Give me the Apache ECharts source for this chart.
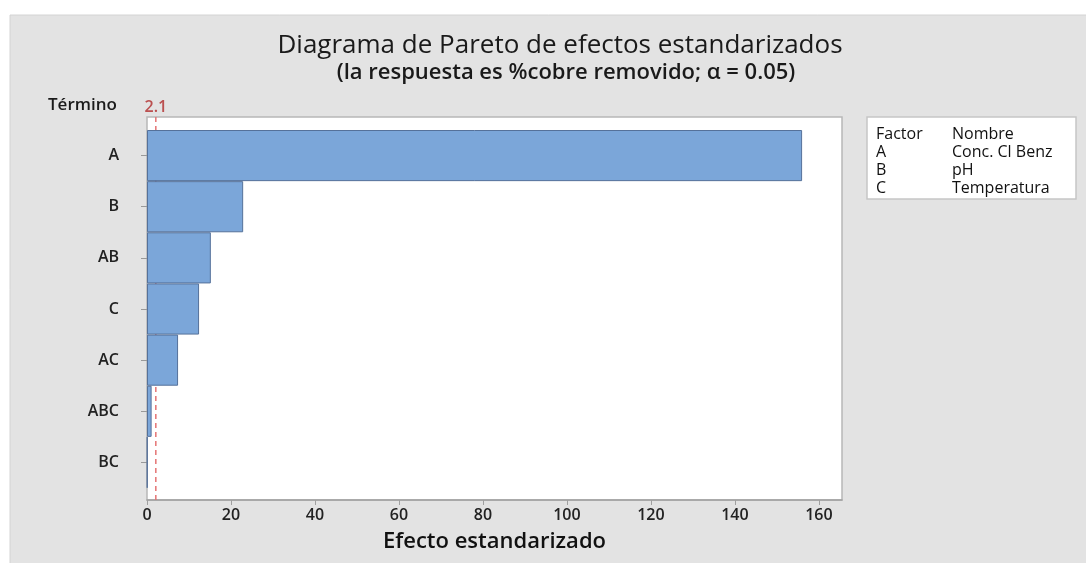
<!DOCTYPE html>
<html>
<head>
<meta charset="utf-8">
<script src="https://cdn.jsdelivr.net/npm/echarts@6/dist/echarts.min.js"></script>
<style>
html,body{margin:0;padding:0;background:#fff;}
#c{width:1086px;height:563px;}
</style>
</head>
<body>
<div id="c"></div>
<script>
const terms = ["A", "B", "AB", "C", "AC", "ABC", "BC"];
const effects = [156, 22.9, 15.2, 12.4, 7.4, 1.1, 0.1];
const threshold = 2.1;
const xTicks = [0, 20, 40, 60, 80, 100, 120, 140, 160];
const factorHeader = ["Factor", "Nombre"];
const factors = ["A", "B", "C"];
const factorNames = ["Conc. Cl Benz", "pH", "Temperatura"];

const FONT = "'Open Sans', 'Noto Sans', sans-serif";
const chart = echarts.init(document.getElementById('c'));

const legendRows = [factorHeader].concat(factors.map((f, i) => [f, factorNames[i]]));
const legendTexts = [];
legendRows.forEach((r, i) => {
  legendTexts.push({type: 'text', z: 20, x: 876, y: 134 + i * 18,
    style: {text: r[0], fill: '#111', font: '16px ' + FONT, textVerticalAlign: 'middle', verticalAlign: 'middle'}});
  legendTexts.push({type: 'text', z: 20, x: 952, y: 134 + i * 18,
    style: {text: r[1], fill: '#111', font: '16px ' + FONT, textVerticalAlign: 'middle', verticalAlign: 'middle'}});
});

const option = {
  animation: false,
  textStyle: {fontFamily: FONT},
  graphic: [
    {type: 'rect', z: -100, shape: {x: 10, y: 15, width: 1080, height: 560},
     style: {fill: '#e3e3e3', stroke: '#d4d4d4', lineWidth: 1}},
    {type: 'rect', z: 10, shape: {x: 867, y: 117, width: 209, height: 82},
     style: {fill: '#fff', stroke: '#c6c6c6', lineWidth: 1.5}}
  ].concat(legendTexts),
  title: [
    {text: 'Diagrama de Pareto de efectos estandarizados', left: 555, top: 28, textAlign: 'center',
     textStyle: {fontSize: 26, fontWeight: 'normal', color: '#1a1a1a', fontFamily: FONT}},
    {text: '(la respuesta es %cobre removido; α = 0.05)', left: 561, top: 57, textAlign: 'center',
     textStyle: {fontSize: 22, fontWeight: 600, color: '#1a1a1a', fontFamily: FONT}},
    {text: 'Término', left: 43, top: 92,
     textStyle: {fontSize: 17, fontWeight: 600, color: '#1a1a1a', fontFamily: FONT}}
  ],
  grid: [
    {left: 147, top: 130, width: 695, height: 358},
    {left: 147, top: 117, width: 695, height: 383, show: true, backgroundColor: '#fff',
     borderColor: '#b8b8b8', borderWidth: 1.5}
  ],
  xAxis: [
    {type: 'value', gridIndex: 0, min: 0, max: 165.5, show: false},
    {type: 'value', gridIndex: 1, min: 0, max: 165.5, interval: 20,
     axisLine: {show: true, lineStyle: {color: '#a0a0a0', width: 1.5}},
     axisTick: {show: true, length: 5, lineStyle: {color: '#a0a0a0'}},
     axisLabel: {showMaxLabel: false, fontSize: 16, fontWeight: 600, color: '#222', margin: 7,
       formatter: v => xTicks.includes(v) ? String(v) : ''},
     splitLine: {show: false},
     name: 'Efecto estandarizado', nameLocation: 'middle', nameGap: 31,
     nameTextStyle: {fontSize: 22, fontWeight: 600, color: '#111'}}
  ],
  yAxis: [
    {type: 'category', gridIndex: 0, data: terms, inverse: true,
     axisLine: {show: false},
     axisTick: {show: true, alignWithLabel: true, length: 6, lineStyle: {color: '#999'}},
     axisLabel: {fontSize: 16, fontWeight: 600, color: '#222', margin: 28}},
    {type: 'value', gridIndex: 1, min: 0, max: 1, show: false}
  ],
  series: [
    {type: 'line', xAxisIndex: 1, yAxisIndex: 1, z: 1, symbol: 'none',
     data: [[threshold, 0], [threshold, 1]],
     lineStyle: {type: [5, 4], color: '#e57373', width: 1.5},
     label: {show: false}},
    {type: 'scatter', xAxisIndex: 1, yAxisIndex: 1, z: 3, symbolSize: 0,
     data: [[threshold, 1]],
     label: {show: true, position: 'top', distance: 2, formatter: String(threshold),
       color: '#b02a2a', fontSize: 16, fontWeight: 600}},
    {type: 'bar', xAxisIndex: 0, yAxisIndex: 0, z: 2, data: effects, barWidth: '100%',
     itemStyle: {color: '#7ba6d9', borderColor: '#55719a', borderWidth: 1}}
  ]
};
chart.setOption(option);
</script>
</body>
</html>
